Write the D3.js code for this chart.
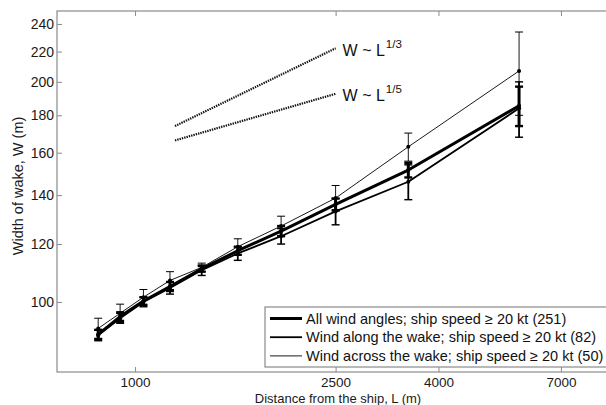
<!DOCTYPE html>
<html><head><meta charset="utf-8">
<script src="https://cdn.jsdelivr.net/npm/d3@7"></script>
<style>body{margin:0;background:#fff}svg{display:block}text{font-family:"Liberation Sans",Arial,sans-serif}</style>
</head><body>
<svg id="c" width="606" height="405"></svg>
<script>
const distances = [845, 934, 1039, 1173, 1356, 1599, 1949, 2500, 3485, 5781];
const allWidth   = [90.3, 95.5, 100.3, 105, 111, 117.5, 125, 136, 151.5, 185.5];
const allErr     = [1.3, 1.3, 1.2, 1.5, 1, 1.5, 2, 2.5, 3.5, 11.5];
const alongWidth = [90, 95, 100, 104.5, 110.5, 116.5, 123, 133, 146, 184];
const alongErr   = [1.5, 1.5, 1.5, 2, 1.8, 2.5, 3, 5.5, 8, 16];
const acrossWidth= [92, 96.5, 101.5, 107, 111.5, 119, 127, 138.7, 163, 207];
const acrossErr  = [3, 2.8, 2.5, 3, 1.5, 3, 4, 5.6, 7.2, 27];
const xTicks = [1000, 2500, 4000, 7000];
const yTicks = [100, 120, 140, 160, 180, 200, 220, 240];
const refThird = [[1200, 174], [2500, 222.3]];
const refFifth = [[1200, 166.3], [2500, 192.6]];
const legendLabels = [
  "All wind angles; ship speed \u2265 20 kt (251)",
  "Wind along the wake; ship speed \u2265 20 kt (82)",
  "Wind across the wake; ship speed \u2265 20 kt (50)"
];

const svg = d3.select("#c");
const x = d3.scaleLog().domain([700, 10000]).range([57, 639]);
const y = d3.scaleLog().domain([80.2, 250]).range([372, 11]);
const axisCol = "#8a8a8a";

svg.append("rect").attr("x", 57).attr("y", 11).attr("width", 639-57).attr("height", 372-11)
  .attr("fill", "none").attr("stroke", axisCol).attr("stroke-width", 1.2);

const fmt = d3.format("d");
const gx = svg.append("g").attr("transform", "translate(0,372)")
  .call(d3.axisBottom(x).tickValues(xTicks).tickFormat(fmt).tickSize(-5).tickPadding(5));
const gxt = svg.append("g").attr("transform", "translate(0,11)")
  .call(d3.axisTop(x).tickValues(xTicks).tickFormat("").tickSize(-5));
const gy = svg.append("g").attr("transform", "translate(57,0)")
  .call(d3.axisLeft(y).tickValues(yTicks).tickFormat(fmt).tickSize(-5).tickPadding(3));
[gx, gxt, gy].forEach(g => {
  g.select(".domain").remove();
  g.selectAll(".tick line").attr("stroke", axisCol).attr("stroke-width", 1);
  g.selectAll(".tick text").attr("fill", "#1a1a1a").style("font-size", "14px");
});
gx.selectAll(".tick text").style("font-size", "13.5px");

svg.append("text").attr("x", 338).attr("y", 402.5).attr("text-anchor", "middle")
  .style("font-size", "13px").attr("fill", "#1a1a1a").text("Distance from the ship, L (m)");
svg.append("text").attr("transform", "translate(23,186) rotate(-90)").attr("text-anchor", "middle")
  .style("font-size", "14.5px").attr("fill", "#1a1a1a").text("Width of wake, W (m)");

const refLine = d3.line().x(d => x(d[0])).y(d => y(d[1]));
[refThird, refFifth].forEach(r => {
  svg.append("path").attr("d", refLine(r)).attr("fill", "none").attr("stroke", "#111")
    .attr("stroke-width", 2.2).attr("stroke-dasharray", "1.4,1");
});
function refLabel(r, sup) {
  const t = svg.append("text").attr("x", x(r[1][0]) + 7).attr("y", y(r[1][1]) + 7.5)
    .style("font-size", "16px").attr("fill", "#111");
  t.append("tspan").text("W ~ L");
  t.append("tspan").attr("dx", 1).attr("dy", -8).style("font-size", "11.5px").text(sup);
}
refLabel(refThird, "1/3");
refLabel(refFifth, "1/5");

const series = [
  {w: allWidth, e: allErr, sw: 3},
  {w: alongWidth, e: alongErr, sw: 1.8},
  {w: acrossWidth, e: acrossErr, sw: 0.9}
];
const line = d3.line().x(d => x(d[0])).y(d => y(d[1]));
series.slice().reverse().forEach(s => {
  const pts = distances.map((L, i) => [L, s.w[i], s.e[i]]);
  const g = svg.append("g");
  g.append("path").attr("d", line(pts)).attr("fill", "none").attr("stroke", "#000")
    .attr("stroke-width", s.sw).attr("stroke-linejoin", "round");
  pts.forEach(p => {
    const cx = x(p[0]), y1 = y(p[1] + p[2]), y2 = y(p[1] - p[2]);
    g.append("line").attr("x1", cx).attr("x2", cx).attr("y1", y1).attr("y2", y2)
      .attr("stroke", "#000").attr("stroke-width", s.sw);
    [y1, y2].forEach(yy => g.append("line").attr("x1", cx - 4).attr("x2", cx + 4)
      .attr("y1", yy).attr("y2", yy).attr("stroke", "#000").attr("stroke-width", Math.max(1, s.sw * 0.8)));
    g.append("circle").attr("cx", cx).attr("cy", y(p[1])).attr("r", 2).attr("fill", "#000");
  });
});

svg.append("rect").attr("x", 265).attr("y", 307).attr("width", 400).attr("height", 60)
  .attr("fill", "#fff").attr("stroke", axisCol).attr("stroke-width", 1.2);
legendLabels.forEach((lab, i) => {
  const ly = 318.5 + i * 18.7;
  svg.append("line").attr("x1", 270).attr("x2", 302).attr("y1", ly).attr("y2", ly)
    .attr("stroke", "#000").attr("stroke-width", series[i].sw);
  svg.append("text").attr("x", 306).attr("y", ly + 5).style("font-size", "14.5px")
    .attr("fill", "#111").text(lab);
});
</script>
</body></html>
